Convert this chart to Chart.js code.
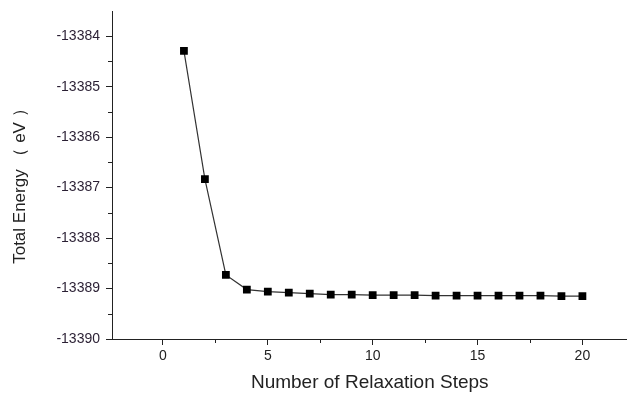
<!DOCTYPE html>
<html>
<head>
<meta charset="utf-8">
<script src="https://cdn.jsdelivr.net/npm/chart.js@4"></script>
<style>
  html, body { margin: 0; padding: 0; background: #fff; overflow: hidden; }
  #wrap { width: 633px; height: 394px; }
</style>
</head>
<body>
<div id="wrap"><canvas id="energyChart"></canvas></div>
<script>
// relaxation steps and total energy (eV)
const steps = [1, 2, 3, 4, 5, 6, 7, 8, 9, 10, 11, 12, 13, 14, 15, 16, 17, 18, 19, 20];
const energy = [-13384.29, -13386.83, -13388.73, -13389.02, -13389.06, -13389.08, -13389.10,
  -13389.12, -13389.12, -13389.13, -13389.13, -13389.13, -13389.14, -13389.14,
  -13389.14, -13389.14, -13389.14, -13389.14, -13389.15, -13389.15];
const xTicks = [0, 5, 10, 15, 20];
const yTicks = [-13390, -13389, -13388, -13387, -13386, -13385, -13384];

const axisColor = '#222';
const fontFamily = 'Liberation Sans, Arial, sans-serif';

// small minor ticks between the labelled ones
const minorTicks = {
  id: 'minorTicks',
  afterDraw(chart) {
    const ctx = chart.ctx;
    const x = chart.scales.x, y = chart.scales.y;
    ctx.save();
    ctx.strokeStyle = axisColor;
    ctx.lineWidth = 1;
    ctx.beginPath();
    for (let v = -2.5; v <= 22.5; v += 5) {
      const px = Math.round(x.getPixelForValue(v)) + 0.5;
      if (px < x.left || px > x.right) continue;
      ctx.moveTo(px, x.top);
      ctx.lineTo(px, x.top + 4);
    }
    for (let v = -13389.5; v < -13383.5; v += 1) {
      const py = Math.round(y.getPixelForValue(v)) + 0.5;
      ctx.moveTo(y.right, py);
      ctx.lineTo(y.right - 4, py);
    }
    ctx.stroke();
    ctx.restore();
  }
};

new Chart(document.getElementById('energyChart'), {
  type: 'line',
  data: {
    datasets: [{
      data: steps.map((s, i) => ({ x: s, y: energy[i] })),
      borderColor: '#333',
      borderWidth: 1.2,
      backgroundColor: '#000',
      pointStyle: 'rect',
      pointRadius: 5.5,
      pointBorderWidth: 0,
      tension: 0
    }]
  },
  options: {
    responsive: true,
    maintainAspectRatio: false,
    animation: false,
    layout: { padding: { top: 11, right: 0, left: 10, bottom: 0 } },
    plugins: {
      legend: { display: false },
      tooltip: { enabled: false }
    },
    scales: {
      x: {
        type: 'linear',
        min: -2.43,
        max: 22.15,
        afterBuildTicks: s => { s.ticks = xTicks.map(v => ({ value: v })); },
        afterFit: s => { s.height = 55; },
        border: { display: true, color: axisColor, width: 1 },
        grid: { drawOnChartArea: false, drawTicks: true, tickLength: 6, color: axisColor },
        ticks: {
          color: '#222',
          padding: 3,
          font: { family: fontFamily, size: 14 }
        },
        title: {
          display: true,
          text: 'Number of Relaxation Steps',
          color: '#222',
          padding: { top: 5, bottom: 0 },
          font: { family: fontFamily, size: 19 }
        }
      },
      y: {
        min: -13390,
        max: -13383.5,
        afterBuildTicks: s => { s.ticks = yTicks.map(v => ({ value: v })); },
        afterFit: s => { s.width = 102; s.paddingTop = 0; s.paddingBottom = 0; },
        border: { display: true, color: axisColor, width: 1 },
        grid: { drawOnChartArea: false, drawTicks: true, tickLength: 6, color: axisColor },
        ticks: {
          color: '#2a1f33',
          padding: 6,
          font: { family: fontFamily, size: 14 },
          callback: v => String(v)
        },
        title: {
          display: true,
          text: 'Total Energy （ eV ）   ',
          color: '#222',
          padding: { top: 0, bottom: 6 },
          font: { family: fontFamily, size: 17 }
        }
      }
    }
  },
  plugins: [minorTicks]
});
</script>
</body>
</html>
